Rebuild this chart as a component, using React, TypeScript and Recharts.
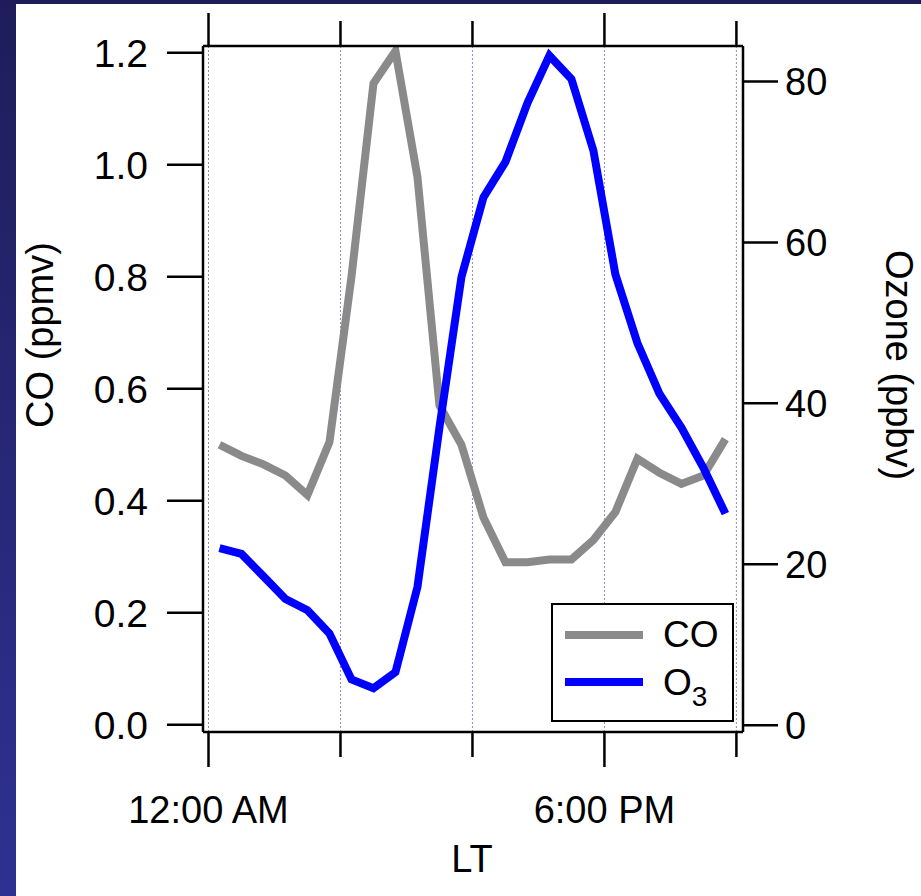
import React from "react";
import {
  LineChart,
  Line,
  XAxis,
  YAxis,
  CartesianGrid,
} from "recharts";

// local time, hour of day (half-hour centred means)
const hours = [
  0.5, 1.5, 2.5, 3.5, 4.5, 5.5, 6.5, 7.5, 8.5, 9.5, 10.5, 11.5,
  12.5, 13.5, 14.5, 15.5, 16.5, 17.5, 18.5, 19.5, 20.5, 21.5, 22.5, 23.5,
];

// CO (ppmv)
const coValues = [
  0.5, 0.48, 0.465, 0.445, 0.41, 0.505, 0.8, 1.145, 1.203, 0.978, 0.57, 0.5,
  0.37, 0.29, 0.29, 0.295, 0.295, 0.33, 0.38, 0.475, 0.45, 0.43, 0.445, 0.51,
];

// Ozone (ppbv)
const ozoneValues = [
  22.0, 21.3, 18.5, 15.7, 14.3, 11.4, 5.7, 4.6, 6.6, 17.2, 37.0, 55.7,
  65.6, 70.0, 77.3, 83.2, 80.3, 71.4, 56.0, 47.5, 41.2, 37.0, 32.0, 26.3,
];

const hourTicks = [0, 6, 12, 18, 24];
const hourLabels: Record<number, string> = { 0: "12:00 AM", 18: "6:00 PM" };
const coTicks = [0, 0.2, 0.4, 0.6, 0.8, 1.0, 1.2];
const ozoneTicks = [0, 20, 40, 60, 80];

const data = hours.map((h, i) => ({ h, co: coValues[i], o3: ozoneValues[i] }));

const FONT = "'Liberation Sans', Arial, sans-serif";
const CO_COLOR = "#8a8a8a";
const O3_COLOR = "#0000ff";

const BottomTick = (props: any) => {
  const { x, y, payload } = props;
  const major = payload.value === 0 || payload.value === 18;
  const label = hourLabels[payload.value];
  return (
    <g>
      <line x1={x} x2={x} y1={y} y2={y + (major ? 35 : 25)} stroke="#000" strokeWidth={2.5} />
      {label && (
        <text x={x} y={y + 91} textAnchor="middle" fontSize={38} fontFamily={FONT} fill="#000">
          {label}
        </text>
      )}
    </g>
  );
};

const TopTick = (props: any) => {
  const { x, y, payload } = props;
  const major = payload.value === 0 || payload.value === 18;
  return <line x1={x} x2={x} y1={y} y2={y - (major ? 33 : 25)} stroke="#000" strokeWidth={2.5} />;
};

const ChartLegend = () => (
  <div
    style={{
      position: "absolute",
      left: 551,
      top: 603,
      width: 183,
      height: 119,
      border: "2.5px solid #000",
      boxSizing: "border-box",
      background: "#fff",
    }}
  >
    <svg width={178} height={114} style={{ display: "block" }}>
      <line x1={12} x2={90} y1={30} y2={30} stroke={CO_COLOR} strokeWidth={8} />
      <text x={110} y={42} fontSize={37} fontFamily={FONT} fill="#000">CO</text>
      <line x1={12} x2={90} y1={77} y2={77} stroke={O3_COLOR} strokeWidth={8} />
      <text x={110} y={90} fontSize={37} fontFamily={FONT} fill="#000">
        O<tspan dy={11} fontSize={28}>3</tspan>
      </text>
    </svg>
  </div>
);

export default function App() {
  return (
    <div
      style={{
        position: "absolute",
        left: 0,
        top: 0,
        width: 921,
        height: 896,
        background: "#fff",
        overflow: "hidden",
        fontFamily: FONT,
      }}
    >
      <div
        style={{
          position: "absolute",
          left: 0,
          top: 0,
          width: 16,
          height: 896,
          background: "linear-gradient(#1e1d5a, #2f3192)",
        }}
      />
      <div style={{ position: "absolute", left: 0, top: 0, width: 921, height: 4, background: "#1e1d5a" }} />

      <div style={{ position: "absolute", left: 0, top: 0 }}>
        <LineChart width={921} height={896} data={data} margin={{ top: 0, right: 0, bottom: 0, left: 0 }}>
          <CartesianGrid horizontal={false} stroke="#8c8cc4" strokeDasharray="2 2" strokeWidth={1} />

          <XAxis
            dataKey="h"
            type="number"
            domain={[-0.25, 24.3]}
            ticks={hourTicks}
            allowDataOverflow
            height={164}
            interval={0}
            axisLine={{ stroke: "#000", strokeWidth: 2.5 }}
            tickLine={false}
            tickSize={0}
            tickMargin={0}
            tick={<BottomTick />}
            label={{
              content: () => (
                <text x={472} y={872} textAnchor="middle" fontSize={38} fontFamily={FONT} fill="#000">
                  LT
                </text>
              ),
            }}
          />
          <XAxis
            xAxisId="top"
            orientation="top"
            dataKey="h"
            type="number"
            domain={[-0.25, 24.3]}
            ticks={hourTicks}
            allowDataOverflow
            height={46}
            interval={0}
            axisLine={{ stroke: "#000", strokeWidth: 2.5 }}
            tickLine={false}
            tickSize={0}
            tickMargin={0}
            tick={<TopTick />}
          />

          <YAxis
            yAxisId="left"
            domain={[-0.013, 1.212]}
            ticks={coTicks}
            allowDataOverflow
            width={203}
            interval={0}
            tickFormatter={(v: number) => v.toFixed(1)}
            tick={{ fill: "#000", fontSize: 39, fontFamily: FONT }}
            tickSize={36}
            tickMargin={19}
            tickLine={{ stroke: "#000", strokeWidth: 2.5 }}
            axisLine={{ stroke: "#000", strokeWidth: 2.5 }}
            label={{
              content: () => (
                <text
                  x={40}
                  y={335}
                  transform="rotate(-90 40 335)"
                  textAnchor="middle"
                  dominantBaseline="central"
                  fontSize={38}
                  fontFamily={FONT}
                  fill="#000"
                >
                  CO (ppmv)
                </text>
              ),
            }}
          />
          <YAxis
            yAxisId="right"
            orientation="right"
            domain={[-0.83, 84.4]}
            ticks={ozoneTicks}
            allowDataOverflow
            width={178}
            interval={0}
            tick={{ fill: "#000", fontSize: 38, fontFamily: FONT }}
            tickSize={35}
            tickMargin={7}
            tickLine={{ stroke: "#000", strokeWidth: 2.5 }}
            axisLine={{ stroke: "#000", strokeWidth: 2.5 }}
            label={{
              content: () => (
                <text
                  x={899}
                  y={365}
                  transform="rotate(90 899 365)"
                  textAnchor="middle"
                  dominantBaseline="central"
                  fontSize={38}
                  fontFamily={FONT}
                  fill="#000"
                >
                  Ozone (ppbv)
                </text>
              ),
            }}
          />

          <Line
            yAxisId="left"
            dataKey="co"
            type="linear"
            stroke={CO_COLOR}
            strokeWidth={8}
            dot={false}
            activeDot={false}
            isAnimationActive={false}
          />
          <Line
            yAxisId="right"
            dataKey="o3"
            type="linear"
            stroke={O3_COLOR}
            strokeWidth={8}
            dot={false}
            activeDot={false}
            isAnimationActive={false}
          />
        </LineChart>
      </div>

      <ChartLegend />
    </div>
  );
}
